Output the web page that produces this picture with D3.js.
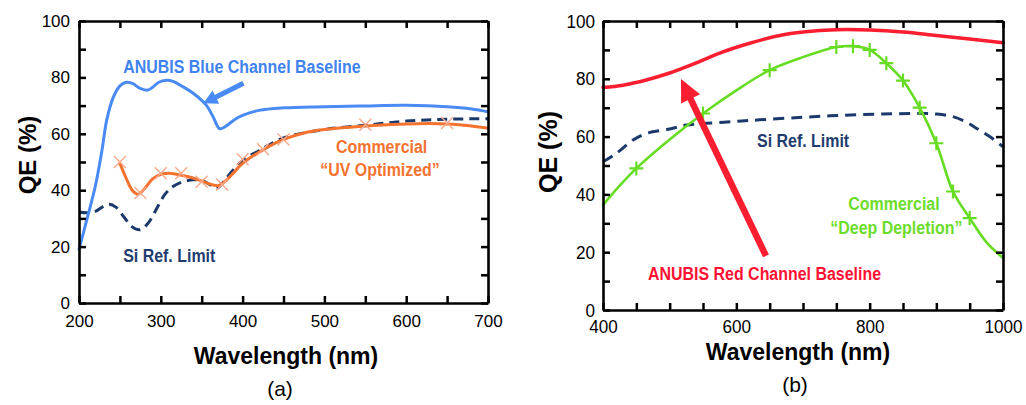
<!DOCTYPE html>
<html><head><meta charset="utf-8">
<script src="https://cdn.jsdelivr.net/npm/d3@7"></script>
<style>
html,body{margin:0;padding:0;background:#fff;}
svg{display:block;}
text{font-family:"Liberation Sans",Arial,Helvetica,sans-serif;}
</style></head><body>
<svg id="chart" width="1026" height="405"></svg>
<script>
// ---------- Panel (a) data ----------
const aXTicks = [200, 300, 400, 500, 600, 700];
const aYTicks = [0, 20, 40, 60, 80, 100];
const aBlueWl = [200,210,220,228,234,242,250,258,266,274,284,290,297,307,315,324,340,356,364,372,380,390,400,420,450,500,550,600,650,680,700];
const aBlueQE = [19,30,41.5,54,65,73,77,78.3,77.8,76.2,75.5,76.5,78.2,79,78.6,77.2,74.3,70,66,61.8,62.8,65,66.5,68.3,69.2,69.6,69.9,70.1,69.6,68.8,67.8];
const aOrangeWl = [250,258,265,272,280,290,300,310,320,335,350,362,370,380,390,400,425,450,475,500,550,600,650,680,700];
const aOrangeQE = [49.5,44,40,38.6,40.5,44,45.6,46,45.6,44.7,43.3,42,41.6,43.5,46.5,49.5,54.3,58,60.3,61.5,62.8,63.5,63.5,62.8,62];
const aOrangeMarkWl = [250,275,300,325,350,375,400,425,450,550,650];
const aOrangeMarkQE = [50,39,46,46,43,42,51,54.5,58,63.2,63.8];
const aSiWl = [200,210,220,230,237,245,255,265,275,285,295,305,315,325,340,350,360,368,377,385,400,420,450,500,550,600,650,700];
const aSiQE = [32.3,32,32.5,34.3,35,34,30.5,27,26,28.5,33.5,38.5,41.3,42.8,43.7,43.5,42,40.7,43,46,50.5,54,58.5,61.5,63,64.5,65.2,65.3];

// ---------- Panel (b) data ----------
const bXTicks = [400, 600, 800, 1000];
const bYTicks = [0, 20, 40, 60, 80, 100];
const bRedWl = [400,430,465,500,540,575,620,665,700,750,800,850,900,950,1000];
const bRedQE = [77,77.8,79.6,82,85.5,88.9,92.3,95,96.2,97,96.9,96.2,95,93.8,92.5];
const bGreenWl = [400,425,450,500,550,600,650,700,750,775,800,825,850,875,900,925,950,975,1000];
const bGreenQE = [36.3,43,49,59,68,76,83,87.5,91,91.3,90,85.4,79.4,70,57.7,41,31.8,23.5,18];
const bGreenMarkWl = [450,550,650,750,775,800,825,850,875,900,925,950];
const bGreenMarkQE = [49,68,83,91,91.3,90,85.4,79.4,70,57.7,41,31.8];
const bSiWl = [400,420,445,465,500,525,555,595,635,700,760,820,875,900,925,945,960,980,1000];
const bSiQE = [51.3,54.2,58.8,61.1,62.6,64,64.6,65.2,65.8,66.7,67.4,67.8,68,67.8,66.9,65,62.9,60,56.5];

const svg = d3.select("#chart");
const C = {blue:"#4a8af4", orange:"#f5722f", orangeMark:"#f8a98c", navy:"#1b3a6b",
           red:"#fb1e30", green:"#66dc22"};

function zip(a, b){ return a.map((v, i) => [v, b[i]]); }

function drawPanel(o){
  const x = d3.scaleLinear().domain(o.xDomain).range([o.left, o.right]);
  const y = d3.scaleLinear().domain([0, 100]).range([o.bottom, o.top]);
  const g = svg.append("g");
  const line = d3.line().x(d => x(d[0])).y(d => y(d[1])).curve(d3.curveCatmullRom.alpha(0.5));

  o.series.forEach(s => {
    g.append("path").datum(zip(s.wl, s.qe)).attr("d", line)
      .attr("fill", "none").attr("stroke", s.color).attr("stroke-width", s.width)
      .attr("stroke-dasharray", s.dash || null).attr("stroke-linecap", s.dash ? "butt" : "round");
    if (s.markWl) {
      const m = g.append("g");
      zip(s.markWl, s.markQE).forEach(p => {
        const cx = x(p[0]), cy = y(p[1]), h = s.markSize;
        const d = s.markType === "x"
          ? `M${cx-h},${cy-h}L${cx+h},${cy+h}M${cx-h},${cy+h}L${cx+h},${cy-h}`
          : `M${cx-h},${cy}L${cx+h},${cy}M${cx},${cy-h}L${cx},${cy+h}`;
        m.append("path").attr("d", d).attr("stroke", s.markColor).attr("stroke-width", s.markWidth).attr("fill", "none");
      });
    }
  });

  // arrow
  const a = o.arrow;
  const x0 = x(a.from[0]), y0 = y(a.from[1]), x1 = x(a.to[0]), y1 = y(a.to[1]);
  const len = Math.hypot(x1 - x0, y1 - y0), ux = (x1 - x0) / len, uy = (y1 - y0) / len;
  const bx = x1 - ux * a.head, by = y1 - uy * a.head;
  g.append("line").attr("x1", x0).attr("y1", y0).attr("x2", bx + ux * 2).attr("y2", by + uy * 2)
    .attr("stroke", a.color).attr("stroke-width", a.width);
  g.append("path").attr("d", `M${x1},${y1}L${bx - uy * a.half},${by + ux * a.half}L${bx + uy * a.half},${by - ux * a.half}Z`)
    .attr("fill", a.color);

  // axes
  const minorX = d3.range(o.xDomain[0], o.xDomain[1] + 1, 50);
  const minorY = d3.range(0, 101, 10);
  const fx = d => o.xTicks.includes(d) ? d : "";
  const fy = d => o.yTicks.includes(d) ? d : "";
  const styleAxis = (sel) => {
    sel.select(".domain").attr("stroke", "#000").attr("stroke-width", 2.6);
    sel.selectAll(".tick line").attr("stroke", "#000").attr("stroke-width", 2.5);
    sel.selectAll(".tick text").attr("fill", "#000").attr("font-size", o.tickFont)
      .attr("transform", `scale(${o.tickScale},1)`);
  };
  const T = -7;
  g.append("g").attr("transform", `translate(0,${o.bottom})`)
    .call(d3.axisBottom(x).tickValues(minorX).tickSizeInner(T).tickSizeOuter(0).tickPadding(o.xPad).tickFormat(fx)).call(styleAxis);
  g.append("g").attr("transform", `translate(0,${o.top})`)
    .call(d3.axisTop(x).tickValues(minorX).tickSizeInner(T).tickSizeOuter(0).tickFormat(() => "")).call(styleAxis);
  g.append("g").attr("transform", `translate(${o.left},0)`)
    .call(d3.axisLeft(y).tickValues(minorY).tickSizeInner(T).tickSizeOuter(0).tickPadding(o.yPad).tickFormat(fy)).call(styleAxis);
  g.append("g").attr("transform", `translate(${o.right},0)`)
    .call(d3.axisRight(y).tickValues(minorY).tickSizeInner(T).tickSizeOuter(0).tickFormat(() => "")).call(styleAxis);

  // annotation labels
  o.labels.forEach(l => {
    g.append("text").attr("transform", `translate(${x(l.at[0])},${y(l.at[1])}) scale(0.84,1)`)
      .attr("text-anchor", l.anchor).attr("font-size", 19).attr("font-weight", "bold")
      .attr("fill", l.color).text(l.text);
  });

  // axis titles
  g.append("text").attr("transform", `translate(${o.yTitleX},${o.yTitleY}) rotate(-90)`)
    .attr("text-anchor", "middle").attr("font-size", o.yTitleFont).attr("font-weight", "bold").text("QE (%)");
  g.append("text").attr("x", o.xTitleX).attr("y", o.xTitleY).attr("text-anchor", "middle")
    .attr("font-size", 23).attr("font-weight", "bold").text("Wavelength (nm)");
  g.append("text").attr("x", o.capX).attr("y", o.capY).attr("text-anchor", "middle")
    .attr("font-size", 21).text(o.caption);
}

drawPanel({
  xDomain: [200, 700], left: 79, right: 488, top: 21, bottom: 303,
  xTicks: aXTicks, yTicks: aYTicks, tickFont: 17, tickScale: 1, xPad: 12, yPad: 9,
  series: [
    {wl: aSiWl, qe: aSiQE, color: C.navy, width: 3, dash: "10,6"},
    {wl: aOrangeWl, qe: aOrangeQE, color: C.orange, width: 3,
     markWl: aOrangeMarkWl, markQE: aOrangeMarkQE, markType: "x", markSize: 6, markColor: C.orangeMark, markWidth: 1.4},
    {wl: aBlueWl, qe: aBlueQE, color: C.blue, width: 3}
  ],
  arrow: {from: [401, 77.9], to: [352, 70.8], color: C.blue, width: 5, head: 14, half: 7.5},
  labels: [
    {text: "ANUBIS Blue Channel Baseline", at: [254, 81.7], anchor: "start", color: "#3f83f0"},
    {text: "Commercial", at: [570, 53.1], anchor: "middle", color: C.orange},
    {text: "\u201cUV Optimized\u201d", at: [568, 45], anchor: "middle", color: C.orange},
    {text: "Si Ref. Limit", at: [254, 14.6], anchor: "start", color: "#1f3d70"}
  ],
  yTitleX: 36, yTitleY: 155, yTitleFont: 24, xTitleX: 286, xTitleY: 364,
  caption: "(a)", capX: 280, capY: 396
});

drawPanel({
  xDomain: [400, 1000], left: 603, right: 1003, top: 21, bottom: 310,
  xTicks: bXTicks, yTicks: bYTicks, tickFont: 19, tickScale: 0.9, xPad: 10, yPad: 9,
  series: [
    {wl: bSiWl, qe: bSiQE, color: C.navy, width: 3, dash: "11,7"},
    {wl: bGreenWl, qe: bGreenQE, color: C.green, width: 2.6,
     markWl: bGreenMarkWl, markQE: bGreenMarkQE, markType: "+", markSize: 7, markColor: C.green, markWidth: 2.2},
    {wl: bRedWl, qe: bRedQE, color: C.red, width: 3.5}
  ],
  arrow: {from: [644.5, 18.7], to: [517, 79.9], color: C.red, width: 6.5, head: 22, half: 10.5},
  labels: [
    {text: "Si Ref. Limit", at: [631, 56.4], anchor: "start", color: "#1f3d70"},
    {text: "Commercial", at: [836.5, 34.6], anchor: "middle", color: "#6cdc2a"},
    {text: "\u201cDeep Depletion\u201d", at: [840, 26.3], anchor: "middle", color: "#6cdc2a"},
    {text: "ANUBIS Red Channel Baseline", at: [467.5, 10.4], anchor: "start", color: "#ff1133"}
  ],
  yTitleX: 557, yTitleY: 152, yTitleFont: 25, xTitleX: 798, xTitleY: 360,
  caption: "(b)", capX: 795, capY: 392
});
</script>
</body></html>
